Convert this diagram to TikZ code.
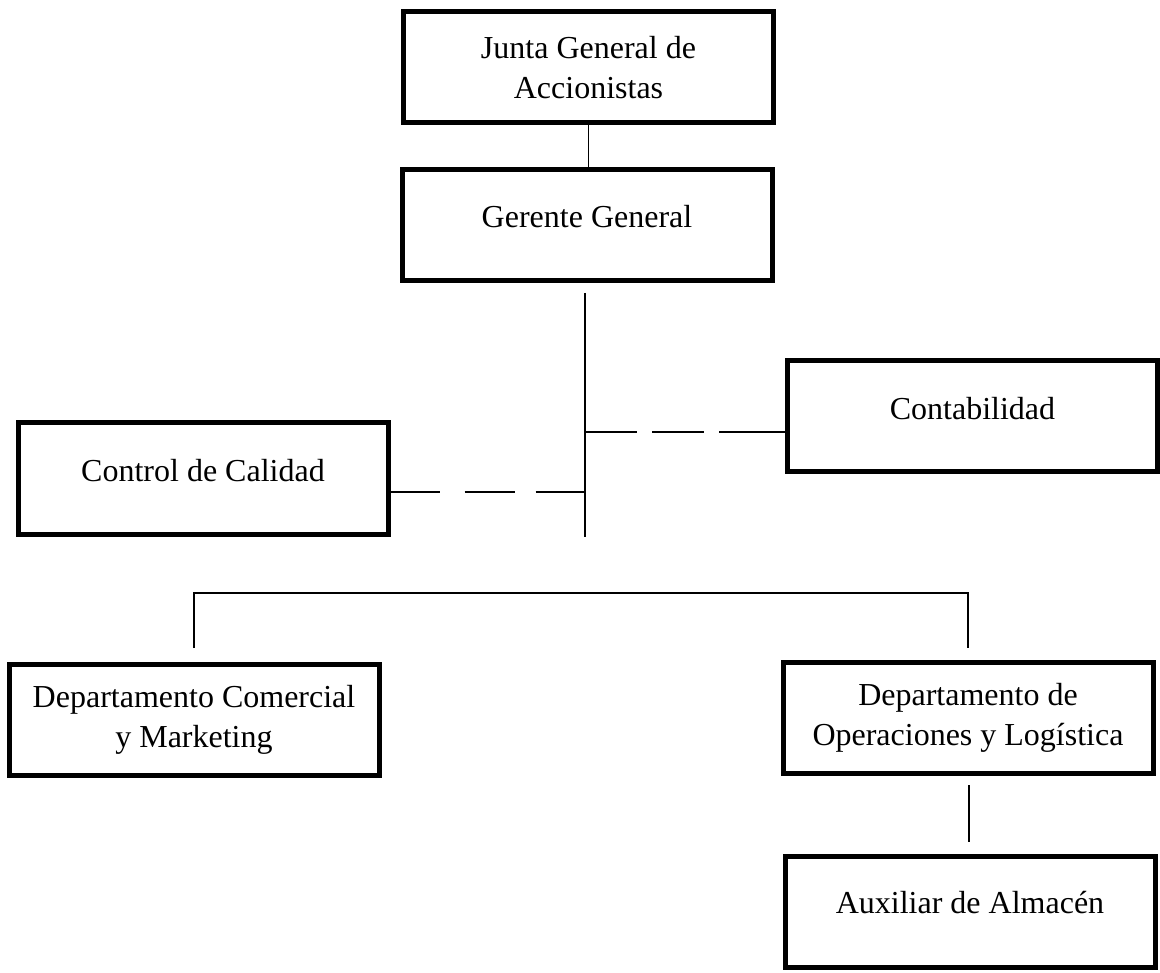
\documentclass[tikz,border=0pt]{standalone}
\usepackage{fontspec}
\setmainfont{Liberation Serif}
\newcommand{\uptext}[2]{\raisebox{#1}[\height][\depth]{#2}}
\begin{document}
\begin{tikzpicture}[x=1pt,y=-1pt,
  orgbox/.style={draw, line width=5pt, minimum width=370pt, minimum height=111pt,
    align=center, inner sep=0pt, font=\fontsize{32}{40}\selectfont},
  link/.style={line width=1.8pt},
  dashlink/.style={line width=1.8pt}]
\useasboundingbox (0,0) rectangle (1160,973);

% boxes
\node[orgbox] (junta)     at (588.5,67.5) {Junta General de\\Accionistas};
\node[orgbox] (gerente)   at (587,225)    {\uptext{8pt}{Gerente General}};
\node[orgbox] (contab)    at (972.5,416.5){\uptext{8pt}{Contabilidad}};
\node[orgbox] (calidad)   at (203,478.5)  {\uptext{8pt}{Control de Calidad}};
\node[orgbox] (comercial) at (194,719.5)  {Departamento Comercial\\y Marketing};
\node[orgbox] (ops)       at (968,718)    {Departamento de\\Operaciones y Log\'istica};
\node[orgbox] (aux)       at (970,912)    {\uptext{9pt}{Auxiliar de Almac\'en}};

% free ends of the connectors
\coordinate (trunkTop) at (585,293);
\coordinate (trunkBot) at (585,537);
\coordinate (contabJ)  at (585,432);
\coordinate (calidadJ) at (585,492);
\coordinate (busL)     at (194,593);
\coordinate (busR)     at (968,593);
\coordinate (comTop)   at (194,648);
\coordinate (opsTop)   at (968,648);
\coordinate (auxA)     at (969,785);
\coordinate (auxB)     at (969,842);

% connectors
\draw[link] (junta.south) -- (junta.south |- gerente.north);
\draw[link] (trunkTop) -- (trunkBot);
\draw[dashlink, dash pattern=on 52pt off 15pt on 52pt off 15pt on 90pt]
  (contabJ) -- (contabJ -| contab.west);
\draw[dashlink, dash pattern=on 49pt off 25pt on 50pt off 21pt on 80pt]
  (calidadJ -| calidad.east) -- (calidadJ);
\draw[link] (comTop) -- (busL) -- (busR) -- (opsTop);
\draw[link] (auxA) -- (auxB);
\end{tikzpicture}
\end{document}
